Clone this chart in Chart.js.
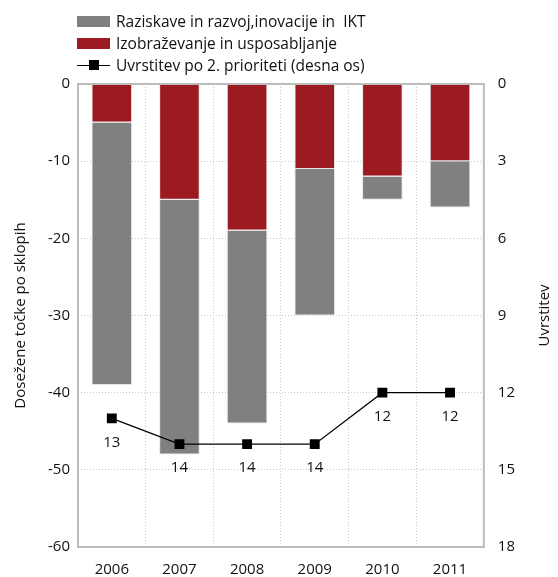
<!DOCTYPE html>
<html>
<head>
<meta charset="utf-8">
<script src="https://cdn.jsdelivr.net/npm/chart.js@4/dist/chart.umd.min.js"></script>
<style>
  html, body { margin: 0; padding: 0; background: #fff; }
  #wrap { position: relative; width: 558px; height: 577px; overflow: hidden; }
  #legend { position: absolute; left: 77px; top: 10px; font-family: "Open Sans", sans-serif; font-size: 15.5px; color: #111; }
  .item { display: flex; align-items: center; height: 22px; }
  .mark { width: 33px; height: 11px; margin-right: 6px; position: relative; }
  .line { height: 0; border-top: 1.5px solid #000; position: absolute; left: 0; right: 0; top: 5px; }
  .sq { position: absolute; width: 10px; height: 10px; background: #000; left: 12px; top: 0; }
</style>
</head>
<body>
<div id="wrap">
  <div id="legend"></div>
  <canvas id="chart" width="558" height="593"></canvas>
</div>
<script>
// values
const years = ['2006', '2007', '2008', '2009', '2010', '2011'];
const izobrazevanje = [-5, -15, -19, -11, -12, -10];   // red, from 0 down
const raziskave = [-34, -33, -25, -19, -3, -6];        // gray, below the red
const uvrstitev = [13, 14, 14, 14, 12, 12];            // right axis, reversed

const gray = '#808080';
const red = '#9c1b21';
const font = 'Open Sans';

// legend (gray, red, line)
const legendItems = [
  { label: 'Raziskave in razvoj,inovacije in  IKT', type: 'box', color: gray },
  { label: 'Izobraževanje in usposabljanje', type: 'box', color: red },
  { label: 'Uvrstitev po 2. prioriteti (desna os)', type: 'line' }
];
const legendEl = document.getElementById('legend');
legendItems.forEach(it => {
  const row = document.createElement('div');
  row.className = 'item';
  const m = document.createElement('div');
  m.className = 'mark';
  if (it.type === 'box') {
    m.style.background = it.color;
  } else {
    m.innerHTML = '<div class="line"></div><div class="sq"></div>';
  }
  const t = document.createElement('span');
  t.style.whiteSpace = 'pre';
  t.textContent = it.label;
  row.appendChild(m);
  row.appendChild(t);
  legendEl.appendChild(row);
});

// frame round the plot area + right axis title (reads bottom to top)
const framePlugin = {
  id: 'frame',
  afterDraw(chart) {
    const a = chart.chartArea, ctx = chart.ctx;
    ctx.save();
    ctx.strokeStyle = '#bcbcbc';
    ctx.lineWidth = 2;
    ctx.strokeRect(a.left, a.top, a.right - a.left, a.bottom - a.top);
    ctx.translate(545, (a.top + a.bottom) / 2);
    ctx.rotate(-Math.PI / 2);
    ctx.font = '15px "' + font + '"';
    ctx.fillStyle = '#111';
    ctx.textAlign = 'center';
    ctx.textBaseline = 'middle';
    ctx.fillText('Uvrstitev', 0, 0);
    ctx.restore();
  }
};

// numbers under the line points
const pointLabels = {
  id: 'pointLabels',
  afterDatasetsDraw(chart) {
    const meta = chart.getDatasetMeta(0);
    const ctx = chart.ctx;
    ctx.save();
    ctx.font = '15px "' + font + '"';
    ctx.fillStyle = '#111';
    ctx.textAlign = 'center';
    ctx.textBaseline = 'middle';
    meta.data.forEach((p, i) => {
      ctx.fillText(String(uvrstitev[i]), p.x, p.y + 24);
    });
    ctx.restore();
  }
};

new Chart(document.getElementById('chart').getContext('2d'), {
  type: 'bar',
  data: {
    labels: years,
    datasets: [
      {
        type: 'line',
        label: 'Uvrstitev po 2. prioriteti (desna os)',
        data: uvrstitev,
        yAxisID: 'y1',
        borderColor: '#000',
        borderWidth: 1.2,
        pointStyle: 'rect',
        pointRadius: 7,
        pointBackgroundColor: '#000',
        pointBorderColor: '#000',
        pointBorderWidth: 0,
        fill: false,
        tension: 0
      },
      {
        label: 'Izobraževanje in usposabljanje',
        data: izobrazevanje,
        backgroundColor: red,
        borderColor: '#e4e4e4',
        borderWidth: 1,
        yAxisID: 'y',
        barPercentage: 0.6,
        categoryPercentage: 1
      },
      {
        label: 'Raziskave in razvoj,inovacije in  IKT',
        data: raziskave,
        backgroundColor: gray,
        borderColor: '#e4e4e4',
        borderWidth: 1,
        yAxisID: 'y',
        barPercentage: 0.6,
        categoryPercentage: 1
      }
    ]
  },
  options: {
    responsive: false,
    animation: false,
    layout: { padding: { top: 84, left: 10, right: 29, bottom: 0 } },
    plugins: {
      legend: { display: false },
      tooltip: { enabled: false }
    },
    scales: {
      x: {
        stacked: true,
        offset: true,
        grid: { offset: true, color: '#c8c8c8', drawTicks: false },
        border: { display: false, dash: [1, 2] },
        ticks: { color: '#111', font: { family: font, size: 15 }, padding: 14 }
      },
      y: {
        stacked: true,
        min: -60,
        max: 0,
        ticks: { stepSize: 10, color: '#111', font: { family: font, size: 15 }, padding: 8 },
        grid: { color: '#c8c8c8', drawTicks: false },
        border: { display: false, dash: [1, 2] },
        title: { display: true, text: 'Dosežene točke po sklopih', color: '#111', font: { family: font, size: 15 }, padding: { top: 2, bottom: 10 } }
      },
      y1: {
        position: 'right',
        reverse: true,
        min: 0,
        max: 18,
        ticks: { stepSize: 3, color: '#111', font: { family: font, size: 15 }, padding: 14 },
        grid: { display: false, drawTicks: false },
        border: { display: false }
      }
    }
  },
  plugins: [framePlugin, pointLabels]
});
</script>
</body>
</html>
